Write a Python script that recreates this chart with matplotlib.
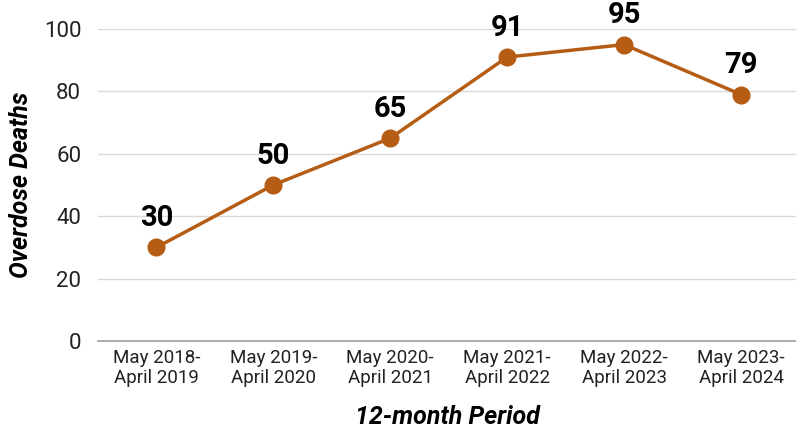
import matplotlib
matplotlib.use('Agg')
import matplotlib.pyplot as plt

# data
periods = ['May 2018-\nApril 2019', 'May 2019-\nApril 2020', 'May 2020-\nApril 2021',
           'May 2021-\nApril 2022', 'May 2022-\nApril 2023', 'May 2023-\nApril 2024']
deaths = [30, 50, 65, 91, 95, 79]
yticks = [0, 20, 40, 60, 80, 100]

line_color = '#B55D14'
plt.rcParams['font.family'] = ['Roboto', 'DejaVu Sans']

fig = plt.figure(figsize=(7.96, 4.38), dpi=100)
ax = fig.add_axes([0.123, 0.2215, 0.877, 0.7123])

x = list(range(len(periods)))
ax.plot(x, deaths, '-o', color=line_color, lw=2.5, ms=12, zorder=3, clip_on=False)

for xi, v in zip(x, deaths):
    ax.annotate(str(v), (xi, v), xytext=(0, 11), textcoords='offset points',
                ha='center', va='bottom', fontsize=21, fontweight='bold', color='black')

ax.set_xlim(-0.5, 5.47)
ax.set_ylim(0, 100)
ax.set_yticks(yticks)
ax.set_xticks(x)
ax.set_xticklabels(periods, fontsize=13.5, linespacing=1.1)
ax.tick_params(axis='y', labelsize=16, length=0, pad=12, colors='#222222')
ax.tick_params(axis='x', length=0, pad=6, colors='#222222')

ax.grid(axis='y', color='#d9d9d9', lw=1.0)
ax.set_axisbelow(True)
for side in ['top', 'right', 'left']:
    ax.spines[side].set_visible(False)
ax.spines['bottom'].set_color('#a6a6a6')
ax.spines['bottom'].set_linewidth(1.3)

ax.set_ylabel('Overdose Deaths', fontsize=18, fontweight='bold', style='italic', labelpad=8)
ax.set_xlabel('12-month Period', fontsize=18, fontweight='bold', style='italic', labelpad=13)

fig.savefig('out.png', dpi=100)
